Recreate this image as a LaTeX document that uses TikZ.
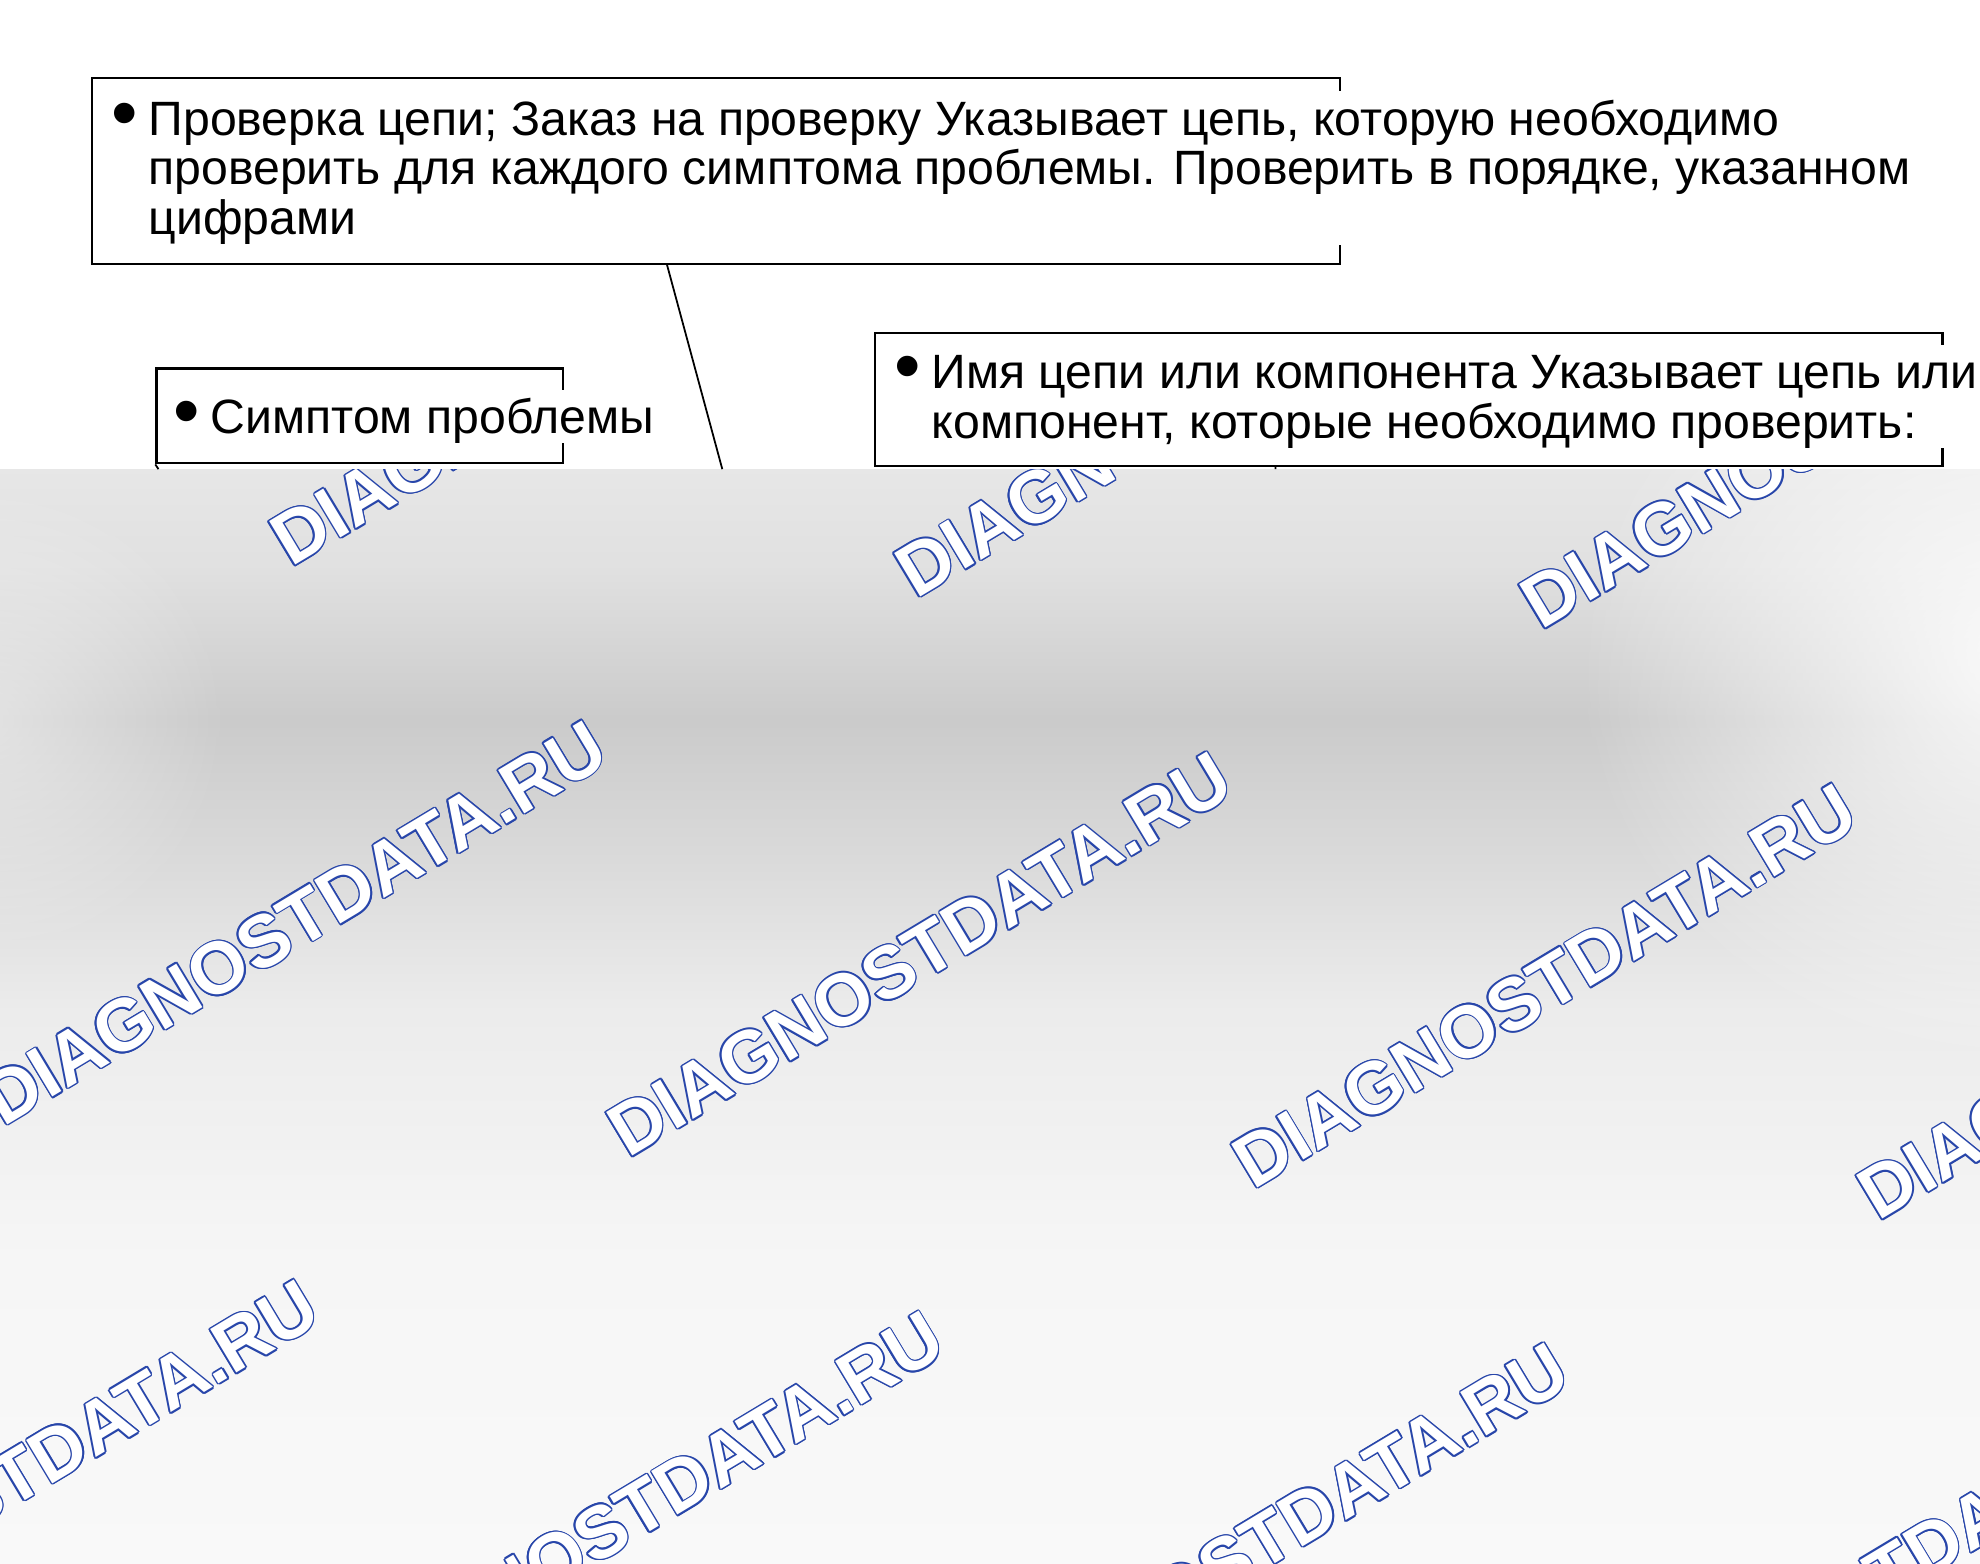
\documentclass[tikz,border=0pt]{standalone}
\usepackage{fontspec}
\setmainfont{Liberation Sans}
\usepackage[copies]{contour}
\usetikzlibrary{positioning,fadings}

\definecolor{wmblue}{RGB}{40,70,170}
\definecolor{ga}{gray}{0.976}
\definecolor{gb}{gray}{0.965}
\definecolor{gc}{gray}{0.925}
\definecolor{gd}{gray}{0.855}
\definecolor{ge}{gray}{0.795}
\definecolor{gf}{gray}{0.88}
\definecolor{gg}{gray}{0.905}
\pgfdeclareverticalshading{greyband}{100bp}{color(0bp)=(ga); color(25bp)=(ga); color(38.75bp)=(gb); color(50.27bp)=(gc); color(57.19bp)=(gd); color(63.53bp)=(ge); color(70.45bp)=(gf); color(75bp)=(gg); color(100bp)=(gg)}
\tikzfading[name=soft blob, inner color=transparent!0, outer color=transparent!100]

\contourlength{0.35pt}
\contournumber{12}

\newcommand{\bul}{\llap{\raisebox{-0.8pt}{\fontsize{17}{17}\selectfont\textbullet}\hspace{2.4pt}}\rule{0pt}{.905em}}
\newcommand{\dstrut}{\rule[-.212em]{0pt}{.212em}}

\begin{document}
\begin{tikzpicture}[x=0.01cm, y=-0.01cm,
frame/.style={draw, line width=0.5pt, inner sep=0pt, anchor=north west},
note/.style={fill=white, align=left, anchor=base west, inner xsep=2pt, inner ysep=0pt, font=\fontsize{10.85}{11.24}\selectfont},
wmark/.style={anchor=base west, inner sep=0pt, rotate=31, font=\fontsize{16.6}{16.6}\selectfont\bfseries},
lead/.style={line width=0.4pt}
]
\useasboundingbox (0,0) rectangle (1568,1238.5);

% grey lower part with the marks
\shade[shading=greyband] (0,371.5) rectangle (1568,1238.5);
\begin{scope}
\clip (0,371.5) rectangle (1568,1238.5);
\fill[white, opacity=0.9, path fading=soft blob] (1250,200) rectangle (1950,850);
\fill[white, opacity=0.45, path fading=soft blob] (-200,380) rectangle (180,760);
\foreach \j in {0,1,2}
  \foreach \i in {-1,...,3}
    \node[wmark] (wm-\i-\j) at ({230+495*\i-228*\j},{450+25*\i+443*\j}) {\contour{wmblue}{\textcolor{white}{DIAGNOSTDATA.RU}}};
\end{scope}

% boxes
\node[frame, minimum width=9.88cm, minimum height=1.47cm] (order) at (72,61) {};
\node[frame, minimum width=3.22cm, minimum height=0.75cm] (symptom) at (123,291) {};
\node[frame, minimum width=8.45cm, minimum height=1.05cm] (circuit) at (692,263) {};

% texts (base = last line)
\node[note] (ordertext) at (110,186) {\bul Проверка цепи; Заказ на проверку Указывает цепь, которую необходимо\\проверить для каждого симптома проблемы. Проверить в порядке, указанном\\цифрами\dstrut};
\node[note] (symptomtext) at (159,343) {\bul Симптом проблемы\dstrut};
\node[note] (circuittext) at (730,347) {\bul Имя цепи или компонента Указывает цепь или\\компонент, которые необходимо проверить:\dstrut};

% leaders
\coordinate (cut1) at (572,371.5);
\coordinate (cut2) at (125.5,371.5);
\coordinate (cut3) at (1010,371.5);
\draw[lead] ([xshift=4.56cm]order.south west) -- (cut1);
\draw[lead] (symptom.south west) -- (cut2);
\draw[lead] ([xshift=3.18cm]circuit.south west) -- (cut3);
\end{tikzpicture}
\end{document}
